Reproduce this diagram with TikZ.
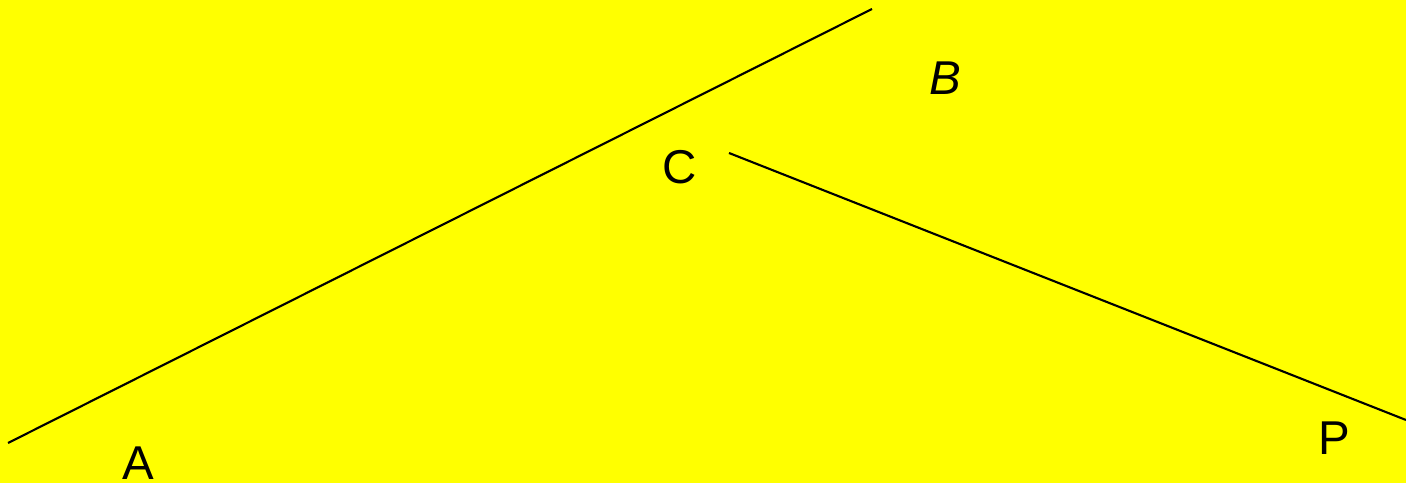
\documentclass[tikz,border=0pt]{standalone}
\usepackage{fontspec}
\setmainfont{Liberation Sans}
\definecolor{bgyellow}{RGB}{255,255,0}

\begin{document}
\begin{tikzpicture}[x=0.01cm,y=-0.01cm]
   \fill[bgyellow] (0,0) rectangle (1406,483);
   \useasboundingbox (0,0) rectangle (1406,483);
   \begin{scope}[every node/.style={font=\fontsize{13.5pt}{16pt}\selectfont,inner sep=0pt}]
    \node (A) at (138,463) {A};
    \node (B) at (945,78) {\itshape B};
    \node (C) at (680,167) {C};
    \node (P) at (1334,438) {P};
   \end{scope}
   \coordinate (a1) at (8,443);
   \coordinate (b1) at (872,9);
   \coordinate (c1) at (729,153);
   \coordinate (p1) at (1406,420);
   \begin{scope}[every path/.style={draw=black,line width=0.6pt}]
    \draw (a1) -- (b1);
    \draw (c1) -- (p1);
   \end{scope}
\end{tikzpicture}
\end{document}
